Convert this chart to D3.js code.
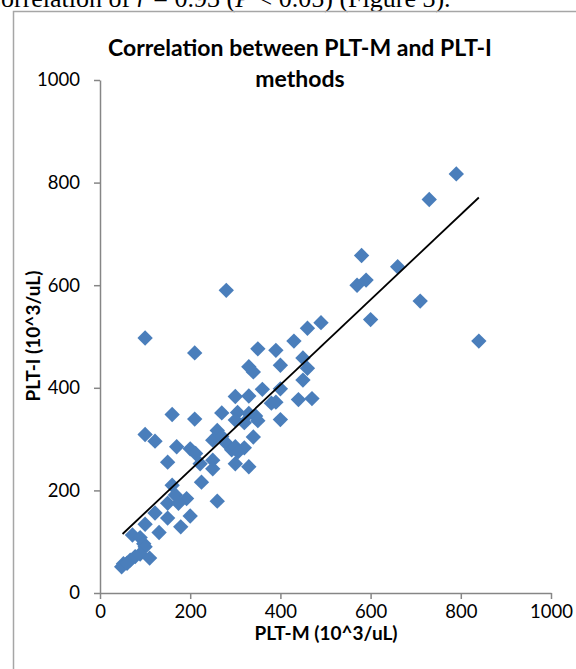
<!DOCTYPE html>
<html>
<head>
  <meta charset="utf-8">
  <style>
    body { margin: 0; background: #fff; }
    svg { display: block; }
  </style>
</head>
<body>
<svg id="chart" width="576" height="669"></svg>
<script src="https://d3js.org/d3.v7.min.js"></script>
<script>
// values (PLT-M, PLT-I)
var pltM = [790, 730, 580, 660, 570, 590, 710, 600, 840, 280, 100, 210,
            490, 460, 430, 350, 390, 330, 340, 400, 450, 460, 450,
            360, 400, 300, 330, 440, 470, 380, 390, 400,
            160, 210, 270, 305, 330, 300, 320, 345, 350,
            100, 122, 260, 250, 270, 340,
            170, 200, 212, 280, 292, 300, 320, 306,
            150, 222, 250, 250, 300, 330,
            225, 160, 167, 192, 150, 174, 260,
            122, 150, 200, 179, 100, 131,
            72, 89, 97, 100, 89, 110, 78, 67, 52, 48, 60];
var pltI = [817, 767, 658, 636, 600, 610, 569, 533, 491, 590, 497, 468,
            527, 516, 491, 476, 473, 441, 431, 444, 458, 438, 415,
            397, 398, 383, 384, 377, 379, 370, 372, 338,
            348, 339, 351, 352, 350, 337, 332, 345, 336,
            309, 296, 317, 298, 305, 304,
            285, 281, 272, 292, 279, 285, 283, 275,
            255, 252, 259, 242, 252, 246,
            216, 210, 191, 184, 175, 175, 179,
            156, 146, 150, 129, 134, 118,
            113, 108, 96, 90, 76, 68, 71, 64, 57, 51, 58];

// linear trend line end points as drawn
var trendX = [50, 840];
var trendY = [115, 771];

var xTicks = [0, 200, 400, 600, 800, 1000];
var yTicks = [0, 200, 400, 600, 800, 1000];

var titleLines = ["Correlation between PLT-M and PLT-I", "methods"];
var xTitle = "PLT-M (10^3/uL)";
var yTitle = "PLT-I (10^3/uL)";

var svg = d3.select("#chart");
var font = "Lato, 'Open Sans', sans-serif";
var axisColor = "#868686";

// the line of page text above the chart (cut at the left edge)
var para = svg.append("text")
    .attr("y", 7)
    .style("font-family", "'Liberation Serif', 'Times New Roman', serif")
    .style("font-size", "26px")
    .style("fill", "#000");
para.append("tspan").text("Correlation of ");
para.append("tspan").style("font-style", "italic").text("r");
para.append("tspan").text(" = 0.93 (");
para.append("tspan").style("font-style", "italic").text("P");
para.append("tspan").text(" < 0.05) (Figure 3).");
var cW = para.select("tspan").node().getSubStringLength(0, 1);
para.attr("x", -cW + 1);

// chart frame
svg.append("rect")
    .attr("x", 13.5)
    .attr("y", 11.5)
    .attr("width", 600)
    .attr("height", 700)
    .style("fill", "none")
    .style("stroke", "#a6a6a6")
    .style("stroke-width", 1.5);

var x = d3.scaleLinear().domain([0, 1000]).range([100, 551]);
var y = d3.scaleLinear().domain([0, 1000]).range([593, 80]);

var xAxis = d3.axisBottom(x).tickValues(xTicks).tickFormat(d3.format("d"))
    .tickSize(6).tickSizeOuter(0).tickPadding(6);
var yAxis = d3.axisLeft(y).tickValues(yTicks).tickFormat(d3.format("d"))
    .tickSize(6).tickSizeOuter(0).tickPadding(14);

var gx = svg.append("g")
    .attr("transform", "translate(0," + y(0) + ")")
    .call(xAxis);
var gy = svg.append("g")
    .attr("transform", "translate(" + x(0) + ",0)")
    .call(yAxis);

[gx, gy].forEach(function(g) {
  g.select(".domain").style("stroke", axisColor).style("stroke-width", 1.5);
  g.selectAll(".tick line").style("stroke", axisColor).style("stroke-width", 1.5);
  g.selectAll(".tick text")
      .style("font-family", font)
      .style("font-size", "18.5px")
      .style("fill", "#000");
});

// points
svg.append("g").selectAll("path")
    .data(pltM.map(function(d, i) { return [d, pltI[i]]; }))
    .enter()
    .append("path")
      .attr("d", d3.symbol().type(d3.symbolSquare).size(118))
      .attr("transform", function(d) { return "translate(" + x(d[0]) + "," + y(d[1]) + ") rotate(45)"; })
      .style("fill", "#4a7ebb");

// trend line
svg.append("line")
    .attr("x1", x(trendX[0])).attr("y1", y(trendY[0]))
    .attr("x2", x(trendX[1])).attr("y2", y(trendY[1]))
    .style("stroke", "#000")
    .style("stroke-width", 1.8);

// title
svg.append("g").selectAll("text")
    .data(titleLines)
    .enter()
    .append("text")
      .attr("x", 300)
      .attr("y", function(d, i) { return 56 + i * 31; })
      .attr("text-anchor", "middle")
      .style("font-family", font)
      .style("font-weight", "bold")
      .style("font-size", "23px")
      .text(function(d) { return d; });

svg.append("text")
    .attr("x", 326)
    .attr("y", 640)
    .attr("text-anchor", "middle")
    .style("font-family", font)
    .style("font-weight", "bold")
    .style("font-size", "19px")
    .text(xTitle);

svg.append("text")
    .attr("transform", "translate(40,336) rotate(-90)")
    .attr("text-anchor", "middle")
    .style("font-family", font)
    .style("font-weight", "bold")
    .style("font-size", "19px")
    .text(yTitle);
</script>
</body>
</html>
